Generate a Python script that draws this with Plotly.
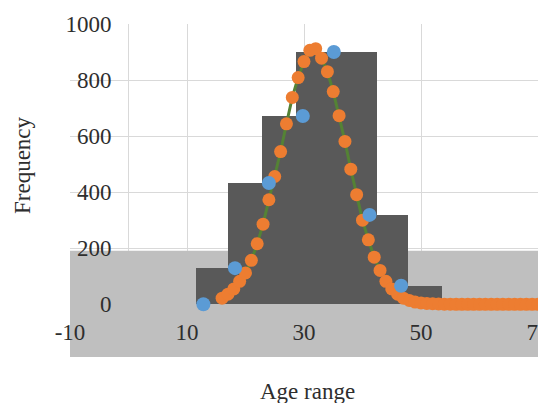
import numpy as np
import plotly.graph_objects as go

# ---- data ----
bin_edges = [11.5, 17.0, 22.8, 28.6, 42.5, 47.8, 53.6]
bar_freq = [129, 433, 672, 900, 319, 66]

obs_x = [12.8, 18.2, 24.0, 29.8, 35.1, 41.2, 46.6]
obs_y = [0, 129, 433, 672, 900, 319, 66]

fit_x = list(range(16, 71))
fit_y = [22, 36, 55, 82, 112, 157, 216, 286, 373, 456, 545, 644, 738, 809,
         866, 906, 912, 878, 830, 759, 673, 581, 482, 391, 300, 230, 168,
         121, 82, 55, 36, 22, 14, 8, 5, 3, 2, 1, 0.5, 0.3, 0, 0, 0, 0, 0,
         0, 0, 0, 0, 0, 0, 0, 0, 0, 0]

x_ticks = [-10, 10, 30, 50, 70]
y_ticks = [0, 200, 400, 600, 800, 1000]
x_title = "Age range"
y_title = "Frequency"

# ---- figure ----
edges = np.array(bin_edges)
centers = (edges[:-1] + edges[1:]) / 2
widths = np.diff(edges)

FONT = "Liberation Serif, Times New Roman, serif"
TXT = "#2e2e2e"
GRID = "#d9d9d9"

fig = go.Figure()
fig.add_trace(go.Bar(x=centers, y=bar_freq, width=widths,
                     marker=dict(color="#595959", line=dict(width=0)),
                     showlegend=False, hoverinfo="skip"))
fig.add_trace(go.Scatter(x=fit_x, y=fit_y, mode="lines+markers",
                         line=dict(color="#548235", width=3),
                         marker=dict(color="#ed7d31", size=13),
                         showlegend=False))
fig.add_trace(go.Scatter(x=obs_x, y=obs_y, mode="markers",
                         marker=dict(color="#5b9bd5", size=14),
                         showlegend=False))

ymin, ymax = -188, 1000
xmin, xmax = -10, 70

# vertical axis line at x = 0 (Excel crossing), below the gray band
fig.add_shape(type="line", xref="x", yref="y", x0=0, x1=0, y0=ymin, y1=ymax,
              line=dict(color=GRID, width=1), layer="below")
fig.add_shape(type="rect", xref="x", yref="y", x0=xmin, x1=xmax,
              y0=ymin, y1=191, fillcolor="#bfbfbf", line=dict(width=0),
              layer="between")

# page body has an 8px default margin, so margins are compensated
fig.update_layout(
    width=546, height=403,
    margin=dict(l=62, r=16, t=16, b=54),
    paper_bgcolor="white", plot_bgcolor="white",
    bargap=0, showlegend=False,
    font=dict(family=FONT, size=23, color=TXT),
    xaxis=dict(range=[xmin, xmax], tickvals=x_ticks,
               ticktext=[str(v) for v in x_ticks], showgrid=True,
               gridcolor=GRID, gridwidth=1, zeroline=False, showline=False,
               ticks="", anchor="free", position=(0 - ymin) / (ymax - ymin),
               ticklabelstandoff=12, automargin=False,
               tickfont=dict(family=FONT, size=23, color=TXT)),
    yaxis=dict(range=[ymin, ymax], tickvals=y_ticks,
               ticktext=[str(v) for v in y_ticks], showgrid=True,
               gridcolor=GRID, gridwidth=1, zeroline=False, showline=False,
               ticks="", anchor="free",
               position=(0 - xmin) / (xmax - xmin), ticklabelstandoff=17,
               automargin=False,
               tickfont=dict(family=FONT, size=23, color=TXT)),
)

fig.add_annotation(text=x_title, xref="paper", yref="paper",
                   x=(307 - 70) / 468, y=(357 - 406) / 333,
                   xanchor="center", yanchor="bottom", showarrow=False,
                   font=dict(family=FONT, size=23, color=TXT))
fig.add_annotation(text=y_title, xref="paper", yref="paper",
                   x=(22 - 70) / 468, y=(357 - 165) / 333, textangle=-90,
                   xanchor="center", yanchor="middle", showarrow=False,
                   font=dict(family=FONT, size=23, color=TXT))

fig.write_html("out.html")
